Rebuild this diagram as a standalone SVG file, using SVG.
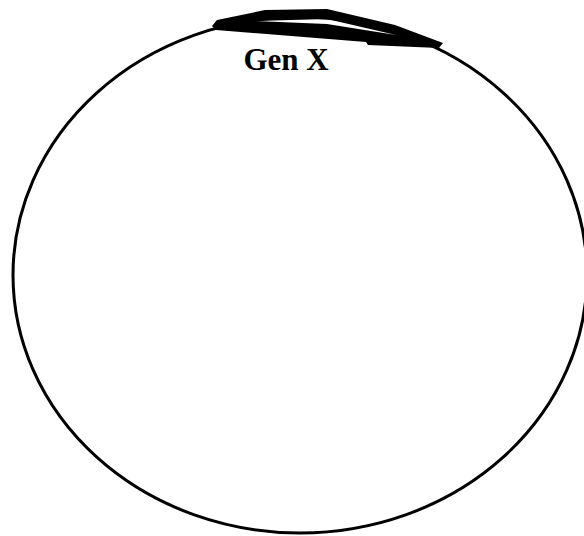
<svg xmlns="http://www.w3.org/2000/svg" width="584" height="536" viewBox="0 0 584 536">
<style>
.outline{fill:none;stroke:#000;stroke-width:3}
.blob{fill:#000;fill-rule:evenodd;stroke:none}
.label{font-family:"Liberation Serif",serif;font-weight:bold;font-size:31px;fill:#000}
</style>
<rect width="584" height="536" fill="#fff"/>
<g id="genx">
<ellipse class="outline" cx="300" cy="275" rx="287" ry="258"/>
<path class="blob" d="M212,26 L217,20 L265,10 L327,9 L395,25 L443,43 L439,48 L368,45 L366,42 L216,30 Z M255,21 L327,19 L396,35 L327,24 Z"/>
<text class="label" x="286" y="70" text-anchor="middle">Gen X</text>
</g>
</svg>
